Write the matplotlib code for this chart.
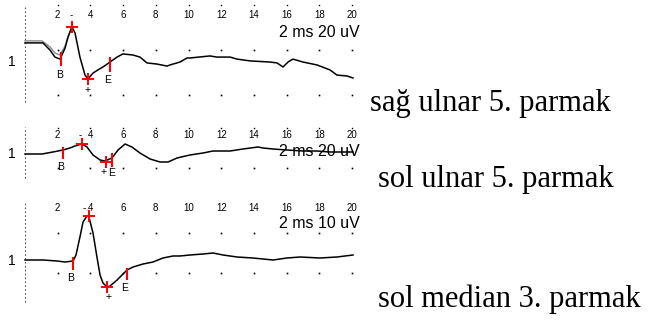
import matplotlib

matplotlib.use("Agg")
import matplotlib.pyplot as plt  # noqa: E402

W, H = 651, 322
PX_PER_MS = 16.35
X0_PX = 25  # time zero

TICKS_MS = [2, 4, 6, 8, 10, 12, 14, 16, 18, 20]

# panel 1: sag ulnar 5. parmak (20 uV/div)
P1_T = [0.00, 1.04, 1.10, 1.53, 1.83, 2.14, 2.45, 2.63, 2.87, 3.06, 3.36, 3.67,
        3.85, 4.16, 4.46, 4.77, 5.20, 5.63, 5.99, 6.61, 7.03, 7.46, 8.07, 8.69,
        8.87, 9.48, 9.91, 10.09, 11.31, 11.74, 12.54, 12.97, 13.76, 14.98, 15.41,
        15.78, 16.09, 16.39, 17.00, 17.86, 18.65, 19.08, 19.69, 20.06]
P1_UV = [-0.4, -0.4, -0.4, -3.6, -6.7, -7.6, -2.7, 2.2, 6.7, 4.0, -6.7, -14.7,
         -16.4, -13.8, -12.4, -11.1, -8.9, -6.7, -5.3, -5.8, -6.7, -9.3, -9.8, -10.7,
         -10.2, -8.9, -7.1, -7.1, -6.2, -6.7, -6.7, -7.6, -8.4, -8.9, -9.3,
         -11.1, -8.9, -7.6, -8.9, -10.2, -12.4, -14.7, -15.1, -16.0]
P1_GRAY_T = [0.00, 1.04, 1.53, 1.83, 2.14, 2.45, 2.63, 2.87]
P1_GRAY_UV = [0.5, 0.5, -2.2, -4.9, -5.8, -1.8, 2.2, 6.7]
P1_PEAKS = [(2.87, 6.7), (3.85, -16.4)]
P1_CURSORS = [(2.20, -4.4, -10.7), (5.20, -6.7, -13.3)]

# panel 2: sol ulnar 5. parmak (20 uV/div)
P2_T = [0.00, 1.04, 1.71, 2.32, 2.75, 3.06, 3.49, 3.79, 4.16, 4.59, 4.89, 5.32,
        5.69, 6.12, 6.54, 7.03, 7.65, 8.26, 8.75, 9.30, 10.09, 10.89, 11.50,
        12.54, 13.33, 14.25, 14.56, 15.17, 16.02, 17.00, 17.86, 18.65, 19.27, 20.06]
P2_UV = [0.0, 0.0, 1.0, 2.0, 3.0, 4.0, 5.0, 3.5, -0.5, -3.0, -3.5, -2.0,
         2.0, 5.0, 3.5, 0.5, -2.5, -4.0, -4.0, -2.0, -0.5, 0.5, 1.5,
         1.5, 2.5, 3.5, 3.0, 2.5, 2.0, 1.5, 1.5, 1.0, 1.0, 1.0]
P2_PEAKS = [(3.49, 5.0), (4.95, -4.0)]
P2_CURSORS = [(2.32, 3.5, -2.5), (5.32, 0.5, -6.5)]

# panel 3: sol median 3. parmak (10 uV/div)
P3_T = [0.00, 1.10, 1.96, 2.45, 2.94, 3.12, 3.36, 3.55, 3.79, 3.91, 4.16, 4.40,
        4.59, 4.77, 5.02, 5.20, 5.63, 6.24, 6.61, 7.22, 7.83, 8.44, 9.05, 9.48,
        10.09, 10.89, 11.50, 12.11, 12.97, 13.94, 15.17, 16.02, 16.82, 18.04,
        19.08, 20.06]
P3_UV = [0.0, 0.0, -0.25, -0.5, -0.25, 1.25, 5.75, 9.5, 11.0, 10.75, 6.75, 0.75,
         -3.75, -5.75, -6.75, -6.5, -5.0, -2.5, -1.75, -1.0, -0.5, 0.5, 1.0, 1.0,
         1.25, 1.5, 1.75, 1.25, 0.75, 0.5, 0.0, 0.5, 0.75, 0.5,
         0.75, 1.25]
P3_PEAKS = [(3.91, 11.0), (5.02, -6.75)]
P3_CURSORS = [(2.94, 0.75, -2.5), (6.24, -2.0, -5.0)]

LABELS = ["sağ ulnar 5. parmak", "sol ulnar 5. parmak", "sol median 3. parmak"]
SCALES = ["2 ms 20 uV", "2 ms 20 uV", "2 ms 10 uV"]

# layout in pixels: top, bottom, baseline, px per uV; annotation spots in data units
PANELS = [
    dict(t=P1_T, v=P1_UV, gray=(P1_GRAY_T, P1_GRAY_UV), peaks=P1_PEAKS,
         cursors=P1_CURSORS, top=0, bot=105, base=42, ppu=2.25,
         tick_y=12.0, top_dots=16.4, dot_rows=[-3.6, -23.6], dash=(16.4, -26.7),
         scale_y=4.4, one_y=-8.9, b=(2.14, -14.7), e=(5.08, -16.9),
         plus=(3.85, -21.3), minus=(2.81, 12.0)),
    dict(t=P2_T, v=P2_UV, gray=None, peaks=P2_PEAKS,
         cursors=P2_CURSORS, top=105, bot=185, base=154, ppu=2.0,
         tick_y=9.5, top_dots=13.0, dot_rows=[-7.0], dash=(13.5, -12.0),
         scale_y=1.5, one_y=0.0, b=(2.2, -6.5), e=(5.30, -9.5),
         plus=(4.83, -9.0), minus=(3.36, 9.5)),
    dict(t=P3_T, v=P3_UV, gray=None, peaks=P3_PEAKS,
         cursors=P3_CURSORS, top=185, bot=322, base=260, ppu=4.0,
         tick_y=13.0, top_dots=None, dot_rows=[6.75, -3.25], dash=(14.5, -10.5),
         scale_y=9.25, one_y=-0.25, b=(2.81, -4.5), e=(6.12, -7.0),
         plus=(5.08, -9.25), minus=(3.62, 13.0)),
]
LABEL_POS = [(370, 111), (378, 187), (378, 307)]

SANS = "Liberation Sans"

fig = plt.figure(figsize=(W / 100, H / 100), dpi=100)

for p, scale in zip(PANELS, SCALES):
    ax = fig.add_axes([0, 1 - p["bot"] / H, 360 / W, (p["bot"] - p["top"]) / H])
    ax.set_axis_off()
    x_right = (360 - X0_PX) / PX_PER_MS
    ax.set_xlim(-X0_PX / PX_PER_MS, x_right)
    ax.set_ylim((p["base"] - p["bot"]) / p["ppu"], (p["base"] - p["top"]) / p["ppu"])

    # dashed zero line
    ax.vlines(0, p["dash"][1], p["dash"][0], color="#555555", lw=0.8,
              linestyles=(0, (1.5, 2)))
    # dot grid
    for row in p["dot_rows"]:
        ax.plot(TICKS_MS, [row] * len(TICKS_MS), ls="none", marker="s",
                ms=1.2, color="black", mew=0)
    if p["top_dots"] is not None:
        ax.plot(TICKS_MS, [p["top_dots"]] * len(TICKS_MS), ls="none", marker="s",
                ms=1.0, color="black", mew=0)
    for tk in TICKS_MS:
        ax.text(tk, p["tick_y"], str(tk), ha="center", va="center",
                fontsize=7, family=SANS, clip_on=False)
    ax.text(p["minus"][0], p["minus"][1], "-", ha="center", va="center",
            fontsize=7, family=SANS)

    if p["gray"] is not None:
        ax.plot(p["gray"][0], p["gray"][1], color="#888888", lw=1.0)
    ax.plot(p["t"], p["v"], color="black", lw=1.1)

    for ct, y1, y2 in p["cursors"]:
        ax.vlines(ct, y2, y1, color="red", lw=1.5)
    for pt, pv in p["peaks"]:
        ax.plot(pt, pv, marker="+", ms=9, mew=1.4, color="red")

    ax.text(p["b"][0], p["b"][1], "B", ha="center", va="center",
            fontsize=7.5, family=SANS)
    ax.text(p["e"][0], p["e"][1], "E", ha="center", va="center",
            fontsize=7.5, family=SANS)
    ax.text(p["plus"][0], p["plus"][1], "+", ha="center", va="center",
            fontsize=7.5, family=SANS)
    ax.text(-0.8, p["one_y"], "1", ha="center", va="center",
            fontsize=10, family=SANS)
    ax.text(x_right, p["scale_y"], scale, ha="right", va="center",
            fontsize=11.5, family=SANS, clip_on=False)

for (lx, ly), lab in zip(LABEL_POS, LABELS):
    fig.text(lx / W, 1 - ly / H, lab, ha="left", va="baseline",
             fontsize=22, family="Liberation Serif")

fig.savefig("out.png", dpi=100)
